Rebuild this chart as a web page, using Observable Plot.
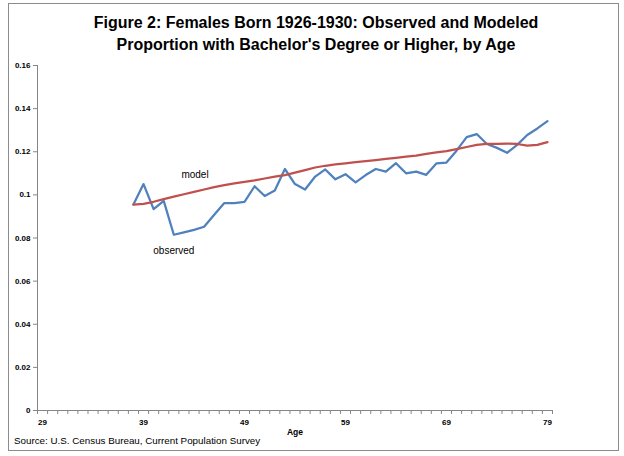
<!DOCTYPE html>
<html><head><meta charset="utf-8">
<script src="https://cdn.jsdelivr.net/npm/d3@7"></script>
<script src="https://cdn.jsdelivr.net/npm/@observablehq/plot@0.6"></script>
<style>
body{margin:0;background:#fff;}
#wrap{position:relative;width:624px;height:456px;overflow:hidden;font-family:"Liberation Sans",Arial,sans-serif;}
#border{position:absolute;left:8px;top:3px;width:611px;height:448px;border:1px solid #8c8c8c;box-sizing:border-box;}
#title{position:absolute;left:0;width:632px;top:12px;text-align:center;font-weight:bold;font-size:16px;line-height:22px;color:#000;}
#source{position:absolute;left:14px;top:435px;font-size:9.8px;color:#000;}
#chart{position:absolute;left:0;top:0;}
</style></head>
<body>
<div id="wrap">
  <div id="border"></div>
  <div id="chart"></div>
  <div id="title">Figure 2: Females Born 1926-1930: Observed and Modeled<br>Proportion with Bachelor's Degree or Higher, by Age</div>
  <div id="source">Source: U.S. Census Bureau, Current Population Survey</div>
</div>
<script>
const ages = d3.range(38, 80);
const observed = [0.0955, 0.1050, 0.0934, 0.0972, 0.0815, 0.0826, 0.0838, 0.0852, 0.0908, 0.0962, 0.0962, 0.0968,
  0.1040, 0.0995, 0.1020, 0.1120, 0.1050, 0.1025, 0.1085, 0.1118, 0.1072, 0.1096,
  0.1058, 0.1092, 0.1120, 0.1108, 0.1147, 0.1100, 0.1108, 0.1093, 0.1146, 0.1150,
  0.1205, 0.1268, 0.1282, 0.1236, 0.1218, 0.1195, 0.1232, 0.1278, 0.1308, 0.1342];
const modeled = [0.0955, 0.0958, 0.0968, 0.0980, 0.0992, 0.1003, 0.1014, 0.1025, 0.1036, 0.1045, 0.1053, 0.1060,
  0.1067, 0.1076, 0.1085, 0.1092, 0.1103, 0.1115, 0.1127, 0.1135, 0.1141, 0.1146,
  0.1152, 0.1156, 0.1161, 0.1167, 0.1172, 0.1177, 0.1182, 0.1190, 0.1197, 0.1203,
  0.1212, 0.1222, 0.1232, 0.1237, 0.1236, 0.1238, 0.1236, 0.1228, 0.1232, 0.1245];
const xLabels = [29, 39, 49, 59, 69, 79];
const yTicks = [0, 0.02, 0.04, 0.06, 0.08, 0.1, 0.12, 0.14, 0.16];
const noteLabels = ["model", "observed"];
const noteAges = [44.1, 42.0];
const noteValues = [0.1094, 0.0739];

const obsData = ages.map((a, i) => ({age: a, value: observed[i]}));
const modData = ages.map((a, i) => ({age: a, value: modeled[i]}));
const notes = noteLabels.map((t, i) => ({text: t, age: noteAges[i], value: noteValues[i]}));
const xBounds = d3.range(28.5, 80, 1);
const axisColor = "#868686";

const chart = Plot.plot({
  width: 624, height: 456,
  marginLeft: 37, marginRight: 72, marginTop: 65, marginBottom: 46,
  style: {fontFamily: "Liberation Sans, Arial, sans-serif", background: "transparent", overflow: "visible"},
  x: {domain: [28.5, 79.5]},
  y: {domain: [0, 0.16]},
  marks: [
    Plot.axisY({ticks: yTicks, tickSize: 4, tickPadding: 3, stroke: axisColor, fill: "#000",
      tickFormat: d => String(+d.toFixed(2)), fontSize: 8, fontWeight: "bold", label: null}),
    Plot.axisX({ticks: xBounds, tickSize: 4, stroke: axisColor, tickFormat: () => "", label: null}),
    Plot.axisX({ticks: xLabels, tickSize: 0, tickPadding: 9, fill: "#000", fontSize: 8, fontWeight: "bold", label: null}),
    Plot.ruleY([0], {stroke: axisColor}),
    Plot.ruleX([28.5], {stroke: axisColor}),
    Plot.line(obsData, {x: "age", y: "value", stroke: "#4F81BD", strokeWidth: 2.25}),
    Plot.line(modData, {x: "age", y: "value", stroke: "#C0504D", strokeWidth: 2.25}),
    Plot.text(notes, {x: "age", y: "value", text: "text", fontSize: 10, fill: "#000"}),
    Plot.text(["Age"], {frameAnchor: "bottom", dy: 24, text: d => d, fontSize: 8.5, fontWeight: "bold", fill: "#000"})
  ]
});
document.getElementById("chart").appendChild(chart);
</script>
</body></html>
